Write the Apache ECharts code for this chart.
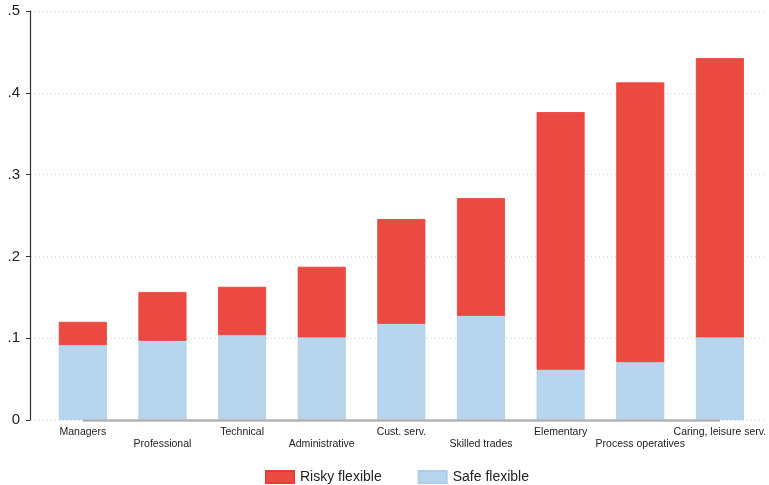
<!DOCTYPE html>
<html>
<head>
<meta charset="utf-8">
<script src="https://cdn.jsdelivr.net/npm/echarts@6/dist/echarts.min.js"></script>
<style>
html,body{margin:0;padding:0;background:#fff;}
#chart{width:769px;height:485px;}
</style>
</head>
<body>
<div id="chart"></div>
<script>
const categories = ['Managers','Professional','Technical','Administrative','Cust. serv.','Skilled trades','Elementary','Process operatives','Caring, leisure serv.'];
const safeFlexible = [0.0916, 0.0968, 0.1038, 0.1010, 0.1176, 0.1274, 0.0614, 0.0708, 0.1010];
const riskyFlexible = [0.0284, 0.0597, 0.0590, 0.0863, 0.1280, 0.1439, 0.3150, 0.3419, 0.3414];
const yTicks = [0, 0.1, 0.2, 0.3, 0.4, 0.5];
const yTickLabels = ['0', '.1', '.2', '.3', '.4', '.5'];

const FONT = "'Liberation Sans', Arial, Helvetica, sans-serif";
const chart = echarts.init(document.getElementById('chart'), null, {renderer:'canvas'});
chart.setOption({
  animation: false,
  backgroundColor: '#ffffff',
  textStyle: {fontFamily: FONT},
  legend: {
    data: ['Risky flexible', 'Safe flexible'],
    left: 260, top: 465,
    itemWidth: 28, itemHeight: 12, itemGap: 36,
    icon: 'rect',
    textStyle: {fontSize: 14, color: '#222', fontFamily: FONT, padding: [0,0,0,1]}
  },
  grid: [
    {left: 43, right: 6, top: 11, bottom: 65, containLabel: false},
    {left: 31, right: 2, top: 11, bottom: 65, containLabel: false}
  ],
  xAxis: [
    {
      type: 'category', gridIndex: 0, data: categories,
      axisLine: {show: false}, axisTick: {show: false},
      axisLabel: {
        interval: 0, margin: 6, fontSize: 10.5, lineHeight: 12, color: '#222', fontFamily: FONT,
        formatter: function (v, i) { return i % 2 === 1 ? '\n' + v : v; }
      }
    },
    {type: 'value', gridIndex: 1, show: false, min: 0, max: 1}
  ],
  yAxis: [
    {
      type: 'value', gridIndex: 0, min: 0, max: 0.5, interval: 0.1, offset: 13,
      axisLine: {show: true, lineStyle: {color: '#333', width: 1.2}},
      axisTick: {show: true, length: 4, lineStyle: {color: '#333'}},
      splitLine: {show: false},
      axisLabel: {
        margin: 10, fontSize: 15, color: '#222', fontFamily: FONT,
        formatter: function (v) {
          const idx = yTicks.findIndex(t => Math.abs(t - v) < 1e-9);
          return idx >= 0 ? yTickLabels[idx] : '';
        }
      }
    },
    {
      type: 'value', gridIndex: 1, min: 0, max: 0.5, interval: 0.1,
      axisLine: {show: false}, axisTick: {show: false}, axisLabel: {show: false},
      splitLine: {show: true, lineStyle: {color: '#d4d4d4', type: [1, 3], width: 1}}
    }
  ],
  series: [
    {
      name: 'Safe flexible', type: 'bar', stack: 'total', data: safeFlexible,
      xAxisIndex: 0, yAxisIndex: 0,
      barWidth: 48,
      itemStyle: {color: '#B7D5EC', borderColor: '#ABCDE8', borderWidth: 0.8},
      markLine: {
        silent: true, symbol: 'none', label: {show: false},
        lineStyle: {color: '#b3b3b3', width: 2.5, type: 'solid'},
        data: [[{coord: [categories[0], 0]}, {coord: [categories[categories.length - 1], 0]}]]
      }
    },
    {
      name: 'Risky flexible', type: 'bar', stack: 'total', data: riskyFlexible,
      xAxisIndex: 0, yAxisIndex: 0,
      barWidth: 48,
      itemStyle: {color: '#EA4A41', borderColor: '#E63E36', borderWidth: 0.8}
    }
  ]
});
</script>
</body>
</html>
